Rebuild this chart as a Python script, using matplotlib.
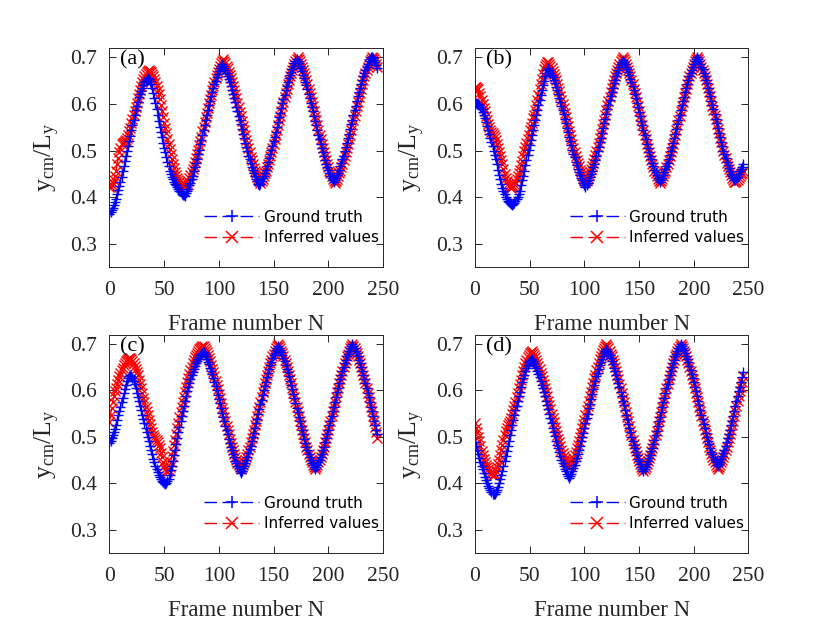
import numpy as np
import matplotlib
matplotlib.use('Agg')
import matplotlib.pyplot as plt

# ── Settings ──────────────────────────────────────────────────────────────────
plt.rcParams['font.family']       = 'Liberation Serif'
plt.rcParams['mathtext.fontset']  = 'custom'
plt.rcParams['mathtext.rm']       = 'Liberation Serif'
plt.rcParams['mathtext.it']       = 'Liberation Serif:italic'
plt.rcParams['axes.linewidth']    = 0.7
plt.rcParams['axes.edgecolor']    = '#262626'

GT_COLOR  = '#0000ff'
INF_COLOR = '#ff0000'
TXT_COLOR = '#262626'

# ── Data: y_cm / L_y per frame, in thousandths ────────────────────────────────
gt_a = np.array([
    364, 367, 372, 377, 383, 389, 397, 406, 415, 424,
    433, 444, 455, 466, 477, 488, 499, 510, 521, 532,
    543, 554, 566, 577, 587, 596, 605, 614, 621, 628,
    635, 641, 646, 650, 653, 655,
    653, 649, 643, 634, 624, 613, 602, 589, 576, 563,
    550, 539, 528, 517, 506, 496, 486, 476, 466, 457,
    450, 443, 438, 433, 429, 425, 421, 417, 413, 410,
    407, 405, 404, 403,
    408, 413, 418, 425, 431, 439, 446, 455, 464, 473,
    482, 492, 502, 513, 523, 534, 545, 555, 566, 577,
    587, 597, 607, 616, 625, 634, 643, 650, 658, 665,
    671, 676, 682, 686,
    682, 677, 672, 666, 660, 653, 646, 638, 630, 621,
    613, 604, 594, 585, 575, 565, 556, 546, 536, 526,
    517, 507, 498, 489, 481, 473, 465, 458, 451, 445,
    439, 434, 429, 425,
    429, 434, 440, 446, 452, 459, 466, 475, 483, 492,
    501, 510, 520, 530, 540, 550, 561, 571, 581, 591,
    601, 611, 620, 629, 638, 646, 655, 662, 669, 675,
    681, 687, 692, 696,
    692, 687, 682, 676, 670, 663, 656, 648, 640, 631,
    622, 613, 603, 594, 584, 574, 564, 554, 544, 534,
    524, 515, 505, 496, 488, 480, 472, 464, 458, 452,
    446, 441, 436, 432,
    436, 441, 447, 452, 459, 466, 473, 481, 489, 498,
    507, 516, 526, 536, 546, 556, 566, 576, 586, 596,
    606, 616, 625, 634, 643, 651, 659, 666, 673, 680,
    685, 691, 696, 700,
    700, 698, 694, 689, 683, 676]) / 1000

inf_a = np.array([
    421, 422, 425, 430, 437, 446, 457, 470, 483, 496,
    506, 513, 517, 519, 520, 522, 526, 533, 541, 549,
    558, 567, 576, 585, 594, 603, 612, 621, 630, 639,
    647, 654, 660, 665, 669, 671, 672, 671,
    668, 664, 659, 653, 646, 638, 630, 621, 610, 598,
    585, 572, 560, 548, 537, 525, 514, 503, 492, 481,
    471, 462, 454, 447, 441, 436, 432, 429, 427, 426,
    425, 425, 426,
    430, 435, 441, 447, 453, 460, 467, 475, 484, 493,
    502, 511, 521, 530, 541, 551, 561, 571, 581, 592,
    601, 611, 620, 629, 638, 647, 655, 662, 669, 675,
    681, 687, 692, 696,
    692, 687, 682, 676, 669, 663, 655, 647, 639, 630,
    621, 612, 603, 593, 583, 573, 563, 553, 543, 533,
    523, 514, 505, 496, 487, 479, 471, 463, 457, 451,
    444, 439, 434, 430,
    434, 439, 445, 451, 457, 464, 471, 479, 488, 497,
    506, 515, 525, 534, 545, 555, 565, 575, 585, 596,
    605, 615, 624, 633, 642, 651, 659, 666, 673, 679,
    685, 691, 696, 700,
    696, 691, 685, 680, 673, 666, 659, 651, 642, 633,
    624, 615, 605, 595, 585, 575, 565, 555, 545, 534,
    525, 515, 506, 497, 488, 479, 471, 464, 457, 451,
    445, 439, 434, 430,
    434, 439, 445, 451, 457, 464, 471, 479, 488, 497,
    506, 515, 525, 534, 545, 555, 565, 575, 585, 596,
    605, 615, 624, 633, 642, 651, 659, 666, 673, 679,
    685, 691, 696, 700,
    699, 696, 692, 686, 680]) / 1000

gt_b = np.array([
    600, 601, 600, 599, 597, 593, 588, 582, 576, 569,
    561, 553, 545, 536, 527, 518, 509, 500, 491, 481,
    470, 459, 448, 438, 429, 420, 413, 407, 401, 396,
    392, 389, 387, 385, 384, 385, 387, 391, 396, 401, 407,
    414, 425, 436, 446, 457, 468, 479, 490, 501, 511,
    522, 533, 544, 555, 566, 577, 587, 598, 609, 620,
    630, 640, 650, 659, 666, 672, 676,
    672, 667, 662, 657, 651, 644, 637, 630, 622, 613,
    605, 596, 587, 578, 568, 559, 549, 539, 530, 520,
    511, 502, 493, 485, 476, 468, 461, 454, 447, 441,
    436, 431, 426, 422,
    426, 431, 437, 443, 449, 456, 464, 472, 480, 489,
    498, 508, 518, 527, 538, 548, 558, 568, 578, 589,
    598, 608, 617, 626, 635, 644, 652, 660, 667, 673,
    679, 685, 690, 694,
    690, 685, 680, 674, 668, 661, 654, 646, 638, 629,
    621, 612, 602, 593, 583, 573, 564, 554, 544, 534,
    525, 515, 506, 497, 489, 481, 473, 466, 459, 453,
    447, 442, 437, 433,
    437, 442, 447, 453, 460, 467, 474, 482, 490, 499,
    508, 517, 527, 536, 546, 556, 566, 577, 586, 597,
    606, 615, 625, 634, 643, 651, 659, 666, 673, 680,
    686, 691, 696, 700,
    696, 691, 686, 680, 674, 667, 660, 652, 644, 635,
    626, 617, 607, 598, 588, 578, 568, 558, 548, 538,
    528, 519, 509, 500, 492, 484, 476, 468, 462, 456,
    450, 445, 440, 436,
    437, 440, 444, 449, 455, 461, 465, 470]) / 1000

inf_b = np.array([
    636, 637, 635, 631, 624, 616, 608, 600, 592, 584,
    575, 566, 557, 550, 544, 540, 537, 534, 529, 522,
    514, 506, 497, 489, 480, 470, 460, 450, 441, 434,
    428, 424, 421, 420, 421, 424, 428, 433, 439, 445,
    451, 458, 468, 478, 488, 498, 507, 516, 525, 534,
    543, 551, 560, 569, 577, 586, 597, 608, 620, 631,
    642, 653, 664, 674, 681, 686, 689, 690,
    686, 681, 676, 671, 664, 658, 651, 643, 635, 627,
    618, 609, 600, 591, 581, 571, 562, 552, 542, 533,
    524, 514, 505, 497, 488, 480, 473, 466, 459, 453,
    447, 442, 437, 433,
    437, 442, 447, 453, 460, 467, 474, 482, 490, 499,
    508, 517, 527, 536, 546, 556, 566, 577, 586, 597,
    606, 615, 625, 634, 643, 651, 659, 666, 673, 680,
    686, 691, 696, 700,
    696, 691, 685, 680, 673, 666, 659, 651, 642, 633,
    624, 615, 605, 595, 585, 575, 565, 555, 545, 534,
    525, 515, 506, 497, 488, 479, 471, 464, 457, 451,
    445, 439, 434, 430,
    434, 439, 445, 451, 457, 464, 471, 479, 488, 497,
    506, 515, 525, 534, 545, 555, 565, 575, 585, 596,
    605, 615, 624, 633, 642, 651, 659, 666, 673, 679,
    685, 691, 696, 700,
    696, 691, 686, 680, 673, 667, 659, 652, 643, 634,
    625, 616, 606, 596, 587, 577, 567, 557, 547, 537,
    527, 518, 508, 500, 491, 483, 474, 467, 460, 453,
    447, 442, 437, 433,
    433, 434, 437, 441, 445, 449, 452, 455]) / 1000

gt_c = np.array([
    487, 492, 498, 504, 510, 517, 526, 536, 546, 555,
    564, 574, 584, 594, 603, 612, 620, 626, 630, 632,
    631, 627, 621, 613, 604, 595, 586, 577, 567, 558,
    548, 539, 529, 520, 510, 500, 490, 480, 471, 462,
    453, 445, 438, 431, 424, 418, 413, 409, 405, 402,
    400, 399, 401,
    404, 410, 418, 428, 438, 449, 460, 471, 484, 497,
    510, 522, 534, 545, 556, 567, 578, 588, 598, 607,
    616, 624, 632, 639, 646, 652, 658, 663, 668, 672,
    676, 679, 681, 682,
    678, 673, 668, 662, 656, 649, 642, 635, 627, 618,
    610, 600, 591, 582, 572, 562, 552, 543, 533, 523,
    514, 505, 496, 487, 479, 471, 463, 456, 449, 443,
    437, 432, 427, 423,
    427, 432, 438, 444, 450, 457, 465, 473, 481, 490,
    499, 509, 519, 529, 539, 549, 560, 570, 580, 590,
    600, 610, 619, 628, 637, 646, 654, 661, 669, 675,
    681, 687, 692, 696,
    692, 687, 682, 676, 669, 663, 655, 647, 639, 630,
    621, 612, 603, 593, 583, 573, 563, 553, 543, 533,
    523, 514, 505, 496, 487, 479, 471, 463, 457, 451,
    444, 439, 434, 430,
    434, 439, 445, 451, 457, 464, 471, 479, 488, 497,
    506, 515, 525, 534, 545, 555, 565, 575, 585, 596,
    605, 615, 624, 633, 642, 651, 659, 666, 673, 679,
    685, 691, 696, 700,
    696, 691, 685, 680, 673, 666, 659, 651, 642, 633,
    624, 615, 605, 595, 585, 575, 565, 555, 545, 534,
    525, 515, 506]) / 1000

inf_c = np.array([
    532, 548, 563, 576, 588, 598, 606, 614, 622, 630,
    637, 643, 649, 654, 659, 663, 666, 668, 669, 669,
    668, 664, 659, 653, 647, 640, 632, 623, 614, 604,
    594, 584, 574, 564, 555, 546, 537, 528, 519, 511,
    504, 499, 496, 493, 489, 483, 475, 466, 456, 446,
    437, 430, 426, 425, 428, 435, 446, 458, 470, 482,
    494, 506, 518, 530, 542, 553, 564, 575, 586, 597,
    607, 617, 626, 635, 643, 651, 658, 665, 671, 676,
    681, 685, 689, 692, 694, 695, 696,
    692, 687, 682, 676, 669, 663, 655, 647, 639, 630,
    621, 612, 603, 593, 583, 573, 563, 553, 543, 533,
    523, 514, 505, 496, 487, 479, 471, 463, 457, 451,
    444, 439, 434, 430,
    434, 439, 445, 451, 457, 464, 471, 479, 488, 497,
    506, 515, 525, 534, 545, 555, 565, 575, 585, 596,
    605, 615, 624, 633, 642, 651, 659, 666, 673, 679,
    685, 691, 696, 700,
    696, 691, 685, 680, 673, 666, 659, 651, 642, 633,
    624, 615, 605, 595, 585, 575, 565, 555, 545, 534,
    525, 515, 506, 497, 488, 479, 471, 464, 457, 451,
    445, 439, 434, 430,
    434, 439, 445, 451, 457, 464, 471, 479, 488, 497,
    506, 515, 525, 534, 545, 555, 565, 575, 585, 596,
    605, 615, 624, 633, 642, 651, 659, 666, 673, 679,
    685, 691, 696, 700,
    696, 691, 685, 680, 673, 666, 659, 651, 642, 633,
    624, 615, 605, 595, 585, 575, 565, 555, 545, 534,
    522, 510, 498]) / 1000

gt_d = np.array([
    489, 480, 471, 462, 454, 446, 438, 430, 422, 414,
    407, 400, 394, 389, 385, 381, 378, 377, 378, 381,
    386, 392, 400, 409, 418, 427, 437, 448, 459, 470,
    481, 492, 503, 514, 525, 536, 547, 557, 567, 577,
    587, 597, 607, 617, 626, 634, 642, 649, 655, 660,
    664, 666, 667,
    663, 658, 653, 648, 642, 635, 628, 620, 612, 604,
    596, 587, 578, 568, 559, 549, 540, 530, 520, 511,
    502, 492, 483, 475, 467, 459, 451, 444, 438, 431,
    426, 421, 416, 412,
    416, 421, 427, 433, 440, 447, 454, 463, 471, 480,
    490, 499, 509, 519, 530, 540, 550, 561, 571, 582,
    592, 602, 611, 621, 630, 638, 647, 654, 661, 668,
    674, 680, 685, 689,
    685, 680, 675, 669, 663, 656, 649, 641, 633, 624,
    616, 607, 597, 588, 578, 568, 558, 548, 538, 528,
    519, 510, 500, 492, 483, 475, 467, 460, 453, 447,
    441, 436, 431, 427,
    431, 436, 442, 448, 454, 461, 469, 477, 485, 494,
    503, 513, 523, 533, 543, 553, 564, 574, 584, 594,
    604, 614, 624, 633, 642, 650, 658, 666, 673, 679,
    685, 691, 696, 700,
    696, 691, 686, 680, 674, 667, 660, 652, 644, 635,
    626, 617, 607, 598, 588, 578, 568, 558, 548, 538,
    528, 519, 509, 500, 492, 484, 476, 468, 462, 456,
    450, 445, 440, 437,
    441, 446, 452, 458, 465, 472, 480, 488, 497, 506,
    515, 525, 535, 545, 556, 566, 577, 587, 598, 608,
    619, 629, 640]) / 1000

inf_d = np.array([
    529, 520, 510, 500, 490, 480, 470, 461, 453, 446,
    440, 435, 431, 427, 423, 420, 418, 418, 421, 427,
    434, 442, 451, 461, 472, 483, 494, 504, 513, 520,
    525, 529, 534, 541, 549, 558, 567, 576, 585, 595,
    604, 614, 623, 632, 641, 650, 658, 665, 671, 676,
    680, 683, 684,
    680, 676, 671, 665, 659, 653, 646, 638, 630, 622,
    614, 605, 596, 587, 577, 568, 559, 550, 540, 531,
    522, 513, 504, 496, 488, 480, 472, 466, 459, 453,
    448, 443, 438, 434,
    438, 443, 448, 454, 461, 468, 475, 483, 491, 500,
    509, 518, 527, 537, 547, 557, 567, 577, 587, 597,
    607, 616, 626, 634, 643, 651, 659, 667, 673, 680,
    686, 691, 696, 700,
    696, 691, 685, 679, 673, 666, 658, 650, 642, 633,
    624, 614, 604, 594, 584, 574, 564, 553, 543, 533,
    523, 513, 503, 494, 485, 477, 469, 461, 454, 448,
    442, 436, 431, 427,
    431, 436, 442, 448, 454, 461, 469, 477, 485, 494,
    503, 513, 523, 533, 543, 553, 564, 574, 584, 594,
    604, 614, 624, 633, 642, 650, 658, 666, 673, 679,
    685, 691, 696, 700,
    696, 691, 685, 680, 673, 666, 659, 651, 642, 633,
    624, 615, 605, 595, 585, 575, 565, 555, 545, 534,
    525, 515, 506, 497, 488, 479, 471, 464, 457, 451,
    445, 439, 434, 430,
    434, 439, 445, 451, 457, 464, 471, 479, 488, 497,
    506, 515, 525, 535, 545, 556, 566, 577, 587, 598,
    608, 619, 630]) / 1000

PANELS = [
    ('(a)', gt_a, inf_a, [0.1319, 0.5721, 0.3295, 0.351]),
    ('(b)', gt_b, inf_b, [0.5723, 0.5721, 0.3295, 0.351]),
    ('(c)', gt_c, inf_c, [0.1319, 0.1138, 0.3295, 0.350]),
    ('(d)', gt_d, inf_d, [0.5723, 0.1138, 0.3295, 0.350]),
]

X_TICKS = [0, 50, 100, 150, 200, 250]
Y_TICKS = [0.3, 0.4, 0.5, 0.6, 0.7]

# ── Figure ────────────────────────────────────────────────────────────────────
fig = plt.figure(figsize=(8.3, 6.24), dpi=100)

for label, gt, inf, pos in PANELS:
    ax = fig.add_axes(pos)

    # inferred first, ground truth drawn over it
    l_inf, = ax.plot(np.arange(len(inf)), inf, color=INF_COLOR, lw=1.0,
                     ls='--', dashes=(9, 4), marker='x', ms=7, mew=1.0,
                     label='Inferred values')
    l_gt, = ax.plot(np.arange(len(gt)), gt, color=GT_COLOR, lw=1.0,
                    ls='--', dashes=(9, 4), marker='+', ms=7.5, mew=1.0,
                    label='Ground truth')

    ax.set_xlim(0, 250)
    ax.set_ylim(0.25, 0.72)
    ax.set_xticks(X_TICKS)
    ax.set_yticks(Y_TICKS)
    ax.set_yticklabels([f'{v:.1f}' for v in Y_TICKS])
    ax.tick_params(direction='in', top=True, right=True, length=5, width=0.7,
                   labelsize=15.5, colors=TXT_COLOR, labelcolor=TXT_COLOR)
    ax.tick_params(axis='x', pad=10)
    ax.tick_params(axis='y', pad=9)

    ax.set_xlabel('Frame number N', fontsize=16.5, color=TXT_COLOR, labelpad=10)
    ax.set_ylabel(r'$\mathrm{y_{cm}/L_y}$', fontsize=18.5, color=TXT_COLOR, labelpad=6)

    ax.text(0.04, 0.99, label, transform=ax.transAxes, ha='left', va='top',
            fontsize=16, color='black')

    leg = ax.legend(handles=[l_gt, l_inf], loc='lower right',
                    bbox_to_anchor=(0.985, 0.10), frameon=False, borderpad=0,
                    borderaxespad=0, handlelength=3.6, handletextpad=0.3,
                    labelspacing=0.35, prop={'family': 'DejaVu Sans', 'size': 11})
    # slightly bigger markers in the legend keys
    for h in leg.legend_handles:
        h.set_markersize(8.5)
        h.set_markeredgewidth(1.1)

plt.savefig('out.png', dpi=100)
plt.close()
print('saved out.png')
